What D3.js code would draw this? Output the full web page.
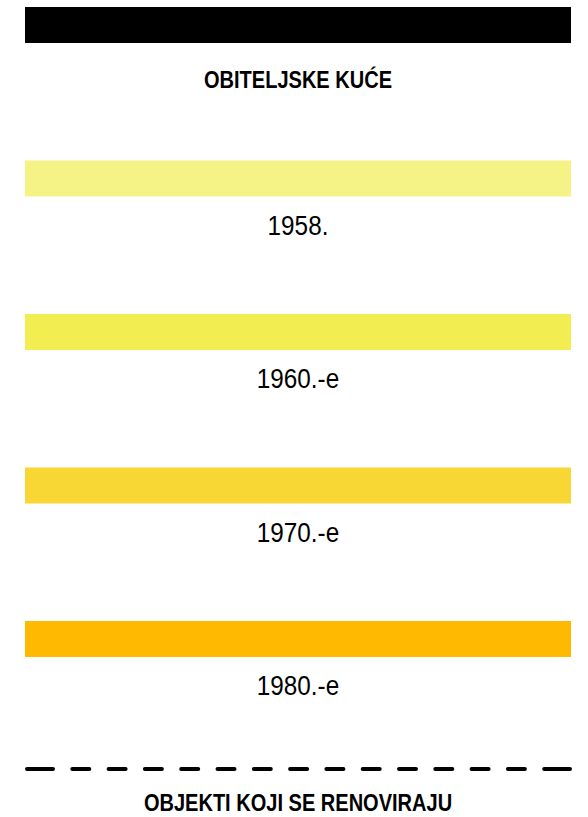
<!DOCTYPE html>
<html>
<head>
<meta charset="utf-8">
<script src="https://cdn.jsdelivr.net/npm/d3@7"></script>
<style>
  body { margin: 0; background: #fff; }
  text { fill: #000; font-family: 'Liberation Sans', Arial, sans-serif; }
</style>
</head>
<body>
<script>
// Width and height
var w = 588;
var h = 817;

// data
var headerLabel = "OBITELJSKE KUĆE";
var headerColor = "#000000";
var periods = ["1958.", "1960.-e", "1970.-e", "1980.-e"];
var periodColors = ["#f5f286", "#f2ee52", "#f8d633", "#ffb900"];
var footerLabel = "OBJEKTI KOJI SE RENOVIRAJU";

var rows = [headerLabel].concat(periods);
var rowColors = [headerColor].concat(periodColors);

var svg = d3.select("body")
  .append("svg")
  .attr("width", w)
  .attr("height", h);

// row positions
var y = d3.scalePoint()
  .domain(rows)
  .range([7, 621]);

var x = d3.scaleLinear()
  .domain([0, 1])
  .range([25, 571]);

var barH = 36;
var cx = 298;

svg.append("g").attr("class", "bars")
  .selectAll("rect")
  .data(rows)
  .enter()
  .append("rect")
    .attr("x", x(0))
    .attr("y", function(d) { return y(d); })
    .attr("width", x(1) - x(0))
    .attr("height", barH)
    .attr("fill", function(d, i) { return rowColors[i]; });

// no condensed font installed, so squeeze horizontally
svg.append("g").attr("class", "labels")
  .selectAll("text")
  .data(rows)
  .enter()
  .append("text")
    .attr("transform", function(d, i) {
      return "translate(" + cx + "," + (y(d) + (i === 0 ? 81 : 74)) + ") scale(" + (i === 0 ? 0.835 : 0.9) + ",1)";
    })
    .attr("text-anchor", "middle")
    .style("font-weight", function(d, i) { return i === 0 ? "bold" : "normal"; })
    .style("font-size", function(d, i) { return i === 0 ? "24px" : "27px"; })
    .text(function(d) { return d; });

// dashed divider: long end dashes, regular ones between
var lineY = 769;
var dashes = [26];
for (var k = 0; k < 13; k++) dashes.push(19.3, 17);
dashes.push(19.3, 26);

svg.append("line")
  .attr("x1", 27)
  .attr("x2", 570)
  .attr("y1", lineY)
  .attr("y2", lineY)
  .attr("stroke", "#000")
  .attr("stroke-width", 4)
  .attr("stroke-linecap", "round")
  .attr("stroke-dasharray", dashes.join(","));

svg.append("text")
  .attr("transform", "translate(" + cx + ",811) scale(0.835,1)")
  .attr("text-anchor", "middle")
  .style("font-weight", "bold")
  .style("font-size", "24px")
  .text(footerLabel);
</script>
</body>
</html>
